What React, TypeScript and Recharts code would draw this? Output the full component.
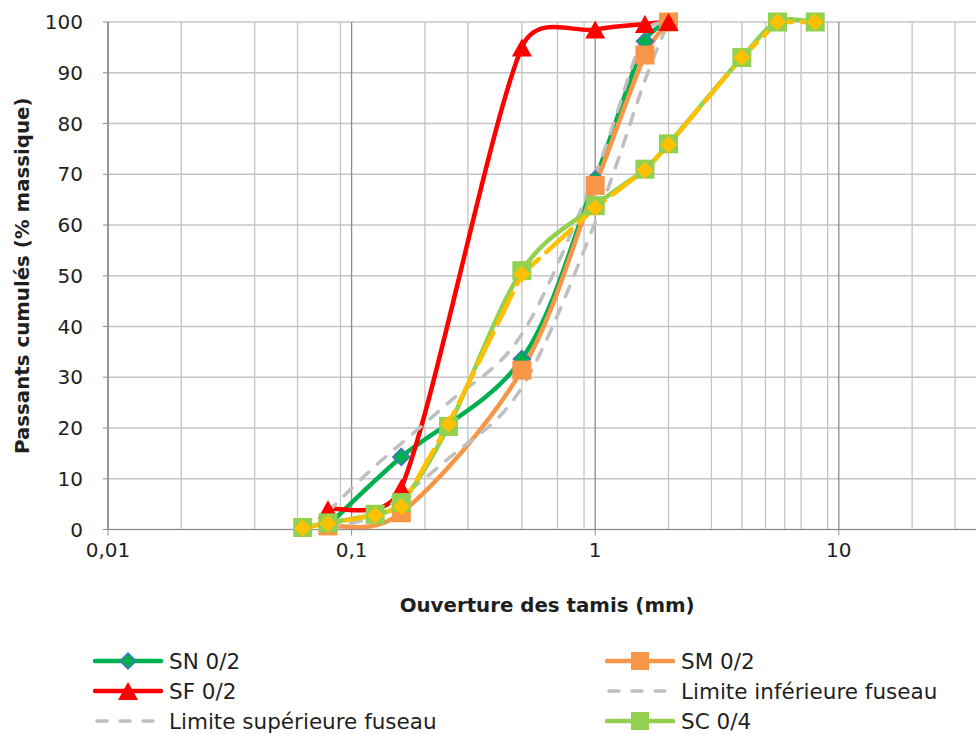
import React from 'react';
import { LineChart, Line, XAxis, YAxis, CartesianGrid, Label } from 'recharts';

// sieve openings (mm) and cumulative passing (%) per sample
const SN_X = [0.08, 0.16, 0.5, 1, 1.6, 2];
const SN_Y = [0.8, 14.3, 33.6, 69, 96.2, 100];
const SM_X = [0.08, 0.16, 0.5, 1, 1.6, 2];
const SM_Y = [0.7, 3.3, 31.4, 67.8, 93.5, 100];
const SF_X = [0.08, 0.16, 0.5, 1, 1.6, 2];
const SF_Y = [4, 8.2, 95, 98.5, 99.6, 100];
const INF_X = [0.08, 0.125, 0.25, 0.5, 1, 1.6, 2];
const INF_Y = [0.5, 3, 14, 28, 60.5, 88.5, 100];
const SUP_X = [0.08, 0.125, 0.25, 0.5, 1, 1.6, 2];
const SUP_Y = [3.5, 12.5, 25, 38.5, 70, 98, 100];
const SC_X = [0.063, 0.08, 0.125, 0.16, 0.25, 0.5, 1, 1.6, 2, 4, 5.6, 8];
const SC_Y = [0.4, 1.3, 3.0, 5.3, 20.3, 51.0, 63.8, 71.0, 76.0, 93.0, 100, 100];
const SC_BIS_Y = [0.3, 1.2, 2.8, 4.5, 20.8, 50.3, 63.4, 70.8, 75.8, 93, 100, 100];

const X_TICKS = [0.01, 0.1, 1, 10];
const Y_TICKS = [0, 10, 20, 30, 40, 50, 60, 70, 80, 90, 100];
const DECADES = [0.01, 0.1, 1, 10];
const MULTS = [2, 3, 4, 5, 6, 7, 8, 9];
const MINOR_TICKS = DECADES.flatMap((d) => MULTS.map((m) => +(d * m).toPrecision(3)));

const FONT = '"DejaVu Sans", sans-serif';
const TEXT = '#1f1f1f';

const toRows = (xs: number[], ys: number[]) => xs.map((x, i) => ({ x, y: ys[i] }));

// Excel-like smoothed line: bezier with control arms capped at half the segment
const excelCurve = (context: any) => {
  let pts: number[][] = [];
  return {
    areaStart() {},
    areaEnd() {},
    lineStart() {
      pts = [];
    },
    point(x: number, y: number) {
      pts.push([+x, +y]);
    },
    lineEnd() {
      const n = pts.length;
      if (!n) return;
      context.moveTo(pts[0][0], pts[0][1]);
      for (let i = 0; i < n - 1; i++) {
        const p0 = pts[Math.max(i - 1, 0)];
        const p1 = pts[i];
        const p2 = pts[i + 1];
        const p3 = pts[Math.min(i + 2, n - 1)];
        const d12 = Math.hypot(p2[0] - p1[0], p2[1] - p1[1]);
        const d02 = Math.hypot(p2[0] - p0[0], p2[1] - p0[1]) || 1;
        const d13 = Math.hypot(p3[0] - p1[0], p3[1] - p1[1]) || 1;
        const f1 = d02 / 6 < d12 / 2 ? 1 / 6 : d12 / 2 / d02;
        const f2 = d13 / 6 < d12 / 2 ? 1 / 6 : d12 / 2 / d13;
        context.bezierCurveTo(
          p1[0] + (p2[0] - p0[0]) * f1,
          p1[1] + (p2[1] - p0[1]) * f1,
          p2[0] - (p3[0] - p1[0]) * f2,
          p2[1] - (p3[1] - p1[1]) * f2,
          p2[0],
          p2[1]
        );
      }
    },
  };
};

const diamondPath = (cx: number, cy: number, r: number) =>
  `M${cx},${cy - r}L${cx + r},${cy}L${cx},${cy + r}L${cx - r},${cy}Z`;
const trianglePath = (cx: number, cy: number) =>
  `M${cx},${cy - 9}L${cx + 10},${cy + 9}L${cx - 10},${cy + 9}Z`;

const diamondDot = (fill: string, stroke: string) => (p: any) =>
  p.cx == null ? <g key={p.index} /> : (
    <path key={p.index} d={diamondPath(p.cx, p.cy, 8.5)} fill={fill} stroke={stroke} strokeWidth={stroke === 'none' ? 0 : 1.5} />
  );
const squareDot = (fill: string) => (p: any) =>
  p.cx == null ? <g key={p.index} /> : <rect key={p.index} x={p.cx - 9.5} y={p.cy - 9.5} width={19} height={19} fill={fill} />;
const triangleDot = (fill: string) => (p: any) =>
  p.cx == null ? <g key={p.index} /> : <path key={p.index} d={trianglePath(p.cx, p.cy)} fill={fill} />;

const fmt = (v: number) => String(v).replace('.', ',');

type LegendItem = { name: string; color: string; dash?: string; marker?: 'diamond' | 'square' | 'triangle' };

const LEGEND_ROWS: LegendItem[][] = [
  [
    { name: 'SN 0/2', color: '#00B050', marker: 'diamond' },
    { name: 'SM 0/2', color: '#F79646', marker: 'square' },
  ],
  [
    { name: 'SF 0/2', color: '#FF0000', marker: 'triangle' },
    { name: 'Limite inférieure fuseau', color: '#BFBFBF', dash: '10 13' },
  ],
  [
    { name: 'Limite supérieure fuseau', color: '#BFBFBF', dash: '10 13' },
    { name: 'SC 0/4', color: '#92D050', marker: 'square' },
  ],
];

function LegendIcon({ item }: { item: LegendItem }) {
  return (
    <svg width={70} height={24} style={{ display: 'block' }}>
      <line
        x1={item.dash ? 4 : 2}
        y1={12}
        x2={item.dash ? 66 : 68}
        y2={12}
        stroke={item.color}
        strokeWidth={item.dash ? 3.5 : 4.5}
        strokeDasharray={item.dash}
        strokeLinecap="round"
      />
      {item.marker === 'diamond' && <path d={diamondPath(35, 12, 8)} fill={item.color} stroke="#4472C4" strokeWidth={1.5} />}
      {item.marker === 'square' && <rect x={26} y={3} width={18} height={18} fill={item.color} />}
      {item.marker === 'triangle' && <path d={trianglePath(35, 12)} fill={item.color} />}
    </svg>
  );
}

function ChartLegend() {
  const rowY = [661, 691, 721];
  const colX = [93, 605];
  return (
    <>
      {LEGEND_ROWS.map((row, r) =>
        row.map((item, c) => (
          <div
            key={`${r}-${c}`}
            style={{
              position: 'absolute',
              left: colX[c],
              top: rowY[r] - 13,
              height: 26,
              display: 'flex',
              alignItems: 'center',
              fontFamily: FONT,
              fontSize: 21.5,
              color: TEXT,
              whiteSpace: 'nowrap',
            }}
          >
            <LegendIcon item={item} />
            <span style={{ marginLeft: 6 }}>{item.name}</span>
          </div>
        ))
      )}
    </>
  );
}

export default function App() {
  const series = [
    { name: 'SN 0/2', data: toRows(SN_X, SN_Y), color: '#00B050', dot: diamondDot('#00B050', '#4472C4') },
    { name: 'SM 0/2', data: toRows(SM_X, SM_Y), color: '#F79646', dot: squareDot('#F79646') },
    { name: 'SF 0/2', data: toRows(SF_X, SF_Y), color: '#FF0000', dot: triangleDot('#FF0000') },
  ];

  return (
    <div
      style={{
        position: 'absolute',
        left: 0,
        top: 0,
        width: 976,
        height: 734,
        overflow: 'hidden',
        background: '#ffffff',
        fontFamily: FONT,
      }}
    >
      <LineChart width={1100} height={734} margin={{ top: 22, right: 17.6, bottom: 174.5, left: 0 }} style={{ fontFamily: FONT }}>
        <XAxis xAxisId="minor" dataKey="x" type="number" scale="log" domain={[0.01, 100]} ticks={MINOR_TICKS} allowDataOverflow hide />
        <CartesianGrid xAxisId="minor" horizontal={false} stroke="#C4C4C4" strokeWidth={1.3} />
        <CartesianGrid vertical={false} stroke="#C4C4C4" strokeWidth={1.3} />
        <CartesianGrid horizontal={false} stroke="#8C8C8C" strokeWidth={1.3} />
        <XAxis
          dataKey="x"
          type="number"
          scale="log"
          domain={[0.01, 100]}
          ticks={X_TICKS}
          allowDataOverflow
          tickFormatter={fmt}
          stroke="#8C8C8C"
          tickSize={6}
          tickMargin={7}
          tick={{ fill: TEXT, fontSize: 20 }}
        >
          <Label value="Ouverture des tamis (mm)" position="bottom" offset={38} dx={-48} fill={TEXT} fontSize={19.8} fontWeight={700} />
        </XAxis>
        <YAxis
          type="number"
          domain={[0, 100]}
          ticks={Y_TICKS}
          width={108}
          stroke="#8C8C8C"
          tickSize={5}
          tickMargin={20}
          tick={{ fill: TEXT, fontSize: 20 }}
        >
          <Label
            value="Passants cumulés (% massique)"
            angle={-90}
            position="insideLeft"
            offset={22}
            dx={0}
            style={{ textAnchor: 'middle' }}
            fill={TEXT}
            fontSize={19.8}
            fontWeight={700}
          />
        </YAxis>
        {series.map((s) => (
          <Line
            key={s.name}
            name={s.name}
            data={s.data}
            dataKey="y"
            type={excelCurve as any}
            stroke={s.color}
            strokeWidth={4.5}
            dot={s.dot}
            activeDot={false}
            isAnimationActive={false}
          />
        ))}
        <Line
          name="Limite inférieure fuseau"
          data={toRows(INF_X, INF_Y)}
          dataKey="y"
          type={excelCurve as any}
          stroke="#BFBFBF"
          strokeWidth={3.5}
          strokeDasharray="11 12"
          strokeLinecap="round"
          dot={false}
          activeDot={false}
          isAnimationActive={false}
        />
        <Line
          name="Limite supérieure fuseau"
          data={toRows(SUP_X, SUP_Y)}
          dataKey="y"
          type={excelCurve as any}
          stroke="#BFBFBF"
          strokeWidth={3.5}
          strokeDasharray="11 12"
          strokeLinecap="round"
          dot={false}
          activeDot={false}
          isAnimationActive={false}
        />
        <Line
          name="SC 0/4"
          data={toRows(SC_X, SC_Y)}
          dataKey="y"
          type={excelCurve as any}
          stroke="#92D050"
          strokeWidth={4.5}
          dot={squareDot('#92D050')}
          activeDot={false}
          isAnimationActive={false}
        />
        <Line
          name="SC 0/4 bis"
          legendType="none"
          data={toRows(SC_X, SC_BIS_Y)}
          dataKey="y"
          type="linear"
          stroke="#FFC000"
          strokeWidth={4.5}
          strokeDasharray="34 10"
          strokeLinecap="round"
          dot={diamondDot('#FFC000', 'none')}
          activeDot={false}
          isAnimationActive={false}
        />
      </LineChart>
      <ChartLegend />
    </div>
  );
}
